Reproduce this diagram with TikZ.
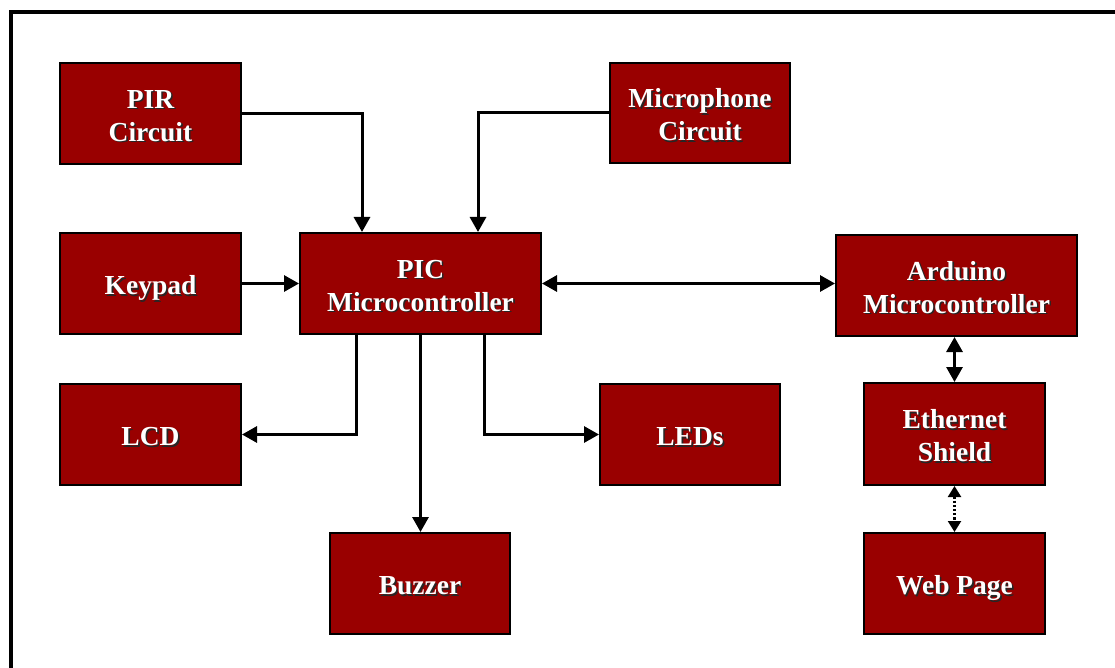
\documentclass[tikz,border=0pt]{standalone}
\usepackage{fontspec}
\setmainfont{Liberation Serif}
\usetikzlibrary{arrows.meta}
\definecolor{boxred}{RGB}{153,0,0}
\newcommand{\shtxt}[1]{\raisebox{-4.5pt}[0.7em][0.2em]{\rlap{\kern1.6pt\raisebox{-1.6pt}{\color{black!85}#1}}{\color{white}#1}}}
\begin{document}
\begin{tikzpicture}[x=1pt,y=-1pt,
  blk/.style={draw=black, line width=2pt, fill=boxred, inner sep=0pt,
    minimum width=181pt, minimum height=101pt, align=center,
    font=\bfseries\fontsize{27.5}{33}\selectfont},
  wideblk/.style={blk, minimum width=241pt},
  tip/.style={Triangle[length=15pt,width=16pt]},
  conn/.style={line width=3pt, -{Triangle[length=15pt,width=16pt]}},
  biconn/.style={line width=3pt, {Triangle[length=15pt,width=16pt]}-{Triangle[length=15pt,width=16pt]}},
  dotconn/.style={line width=2.2pt, dotted, {Triangle[length=11pt,width=13pt]}-{Triangle[length=11pt,width=13pt]}}
]
\useasboundingbox (0,0) rectangle (1115,668);
\fill[white] (0,0) rectangle (1115,668);
\draw[line width=4pt, line join=miter] (11,668) -- (11,12) -- (1115,12);

\node[blk] (pir) at (150.5,113.5) {\shtxt{PIR}\\\shtxt{Circuit}};
\node[blk] (keypad) at (150.5,283.5) {\shtxt{Keypad}};
\node[wideblk] (pic) at (420.5,283.5) {\shtxt{PIC}\\\shtxt{Microcontroller}};
\node[blk] (lcd) at (150.5,434.5) {\shtxt{LCD}};
\node[blk, minimum width=180pt] (leds) at (690,434.5) {\shtxt{LEDs}};
\node[blk, minimum width=180pt] (buzzer) at (420,583.5) {\shtxt{Buzzer}};
\node[blk, minimum width=180pt, minimum height=100pt] (mic) at (700,113) {\shtxt{Microphone}\\\shtxt{Circuit}};
\node[wideblk] (arduino) at (956.5,285.5) {\shtxt{Arduino}\\\shtxt{Microcontroller}};
\node[blk, minimum height=102pt] (eth) at (954.5,434) {\shtxt{Ethernet}\\\shtxt{Shield}};
\node[blk] (web) at (954.5,583.5) {\shtxt{Web Page}};

\draw[conn] (pir.east) -| ([xshift=-58.5pt]pic.north);
\draw[conn] (mic.west) -| ([xshift=57.5pt]pic.north);
\draw[conn] (keypad.east) -- (pic.west);
\draw[biconn] (pic.east) -- (pic.east -| arduino.west);
\draw[conn] ([xshift=-64.5pt]pic.south) |- (lcd.east);
\draw[conn] (pic.south) -- (pic.south |- buzzer.north);
\draw[conn] ([xshift=63.5pt]pic.south) |- (leds.west);
\draw[biconn] (eth.north |- arduino.south) -- (eth.north);
\draw[dotconn] (eth.south) -- (web.north);
\end{tikzpicture}
\end{document}
